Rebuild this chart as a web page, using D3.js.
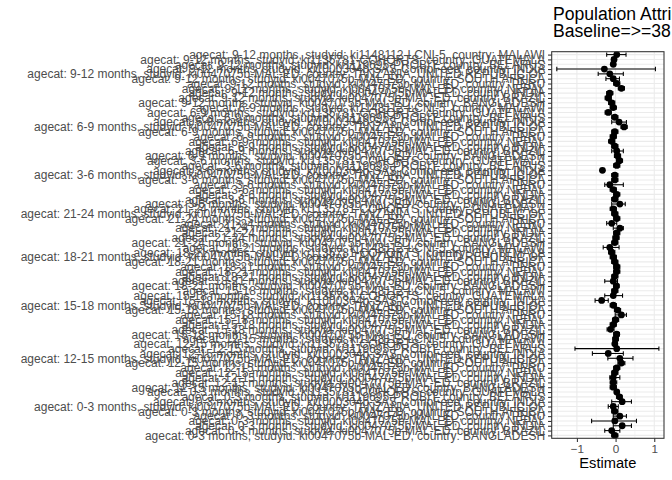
<!DOCTYPE html>
<html><head><meta charset="utf-8">
<script src="https://cdn.jsdelivr.net/npm/d3@7"></script>
<style>body{margin:0;background:#fff}</style>
</head><body>
<svg id="chart" width="672" height="480"></svg>
<script>
// ---- data (ordered bottom to top, as in the picture) ----
const ageCats = ["0-3 months","12-15 months","15-18 months","18-21 months","21-24 months","3-6 months","6-9 months","9-12 months"];
const malEd = ["BANGLADESH","BRAZIL","INDIA","NEPAL","PERU","SOUTH AFRICA","TANZANIA, UNITED REPUBLIC OF"];
const otherStudies = [
  [["ki1000304b-SAS-CompFeed","INDIA"],["ki1119695-PROBIT","BELARUS"],["ki1135781-COHORTS","GUATEMALA"]],
  [["ki1000304b-SAS-CompFeed","INDIA"],["ki1119695-PROBIT","BELARUS"],["ki1135781-COHORTS","GUATEMALA"],["ki1148112-LCNI-5","MALAWI"]],
  [["ki1000304b-SAS-CompFeed","INDIA"],["ki1135781-COHORTS","GUATEMALA"],["ki1148112-LCNI-5","MALAWI"]],
  [["ki1135781-COHORTS","GUATEMALA"],["ki1148112-LCNI-5","MALAWI"]],
  [["ki1135781-COHORTS","GUATEMALA"]],
  [["ki1000304b-SAS-CompFeed","INDIA"],["ki1119695-PROBIT","BELARUS"],["ki1135781-COHORTS","GUATEMALA"]],
  [["ki1000304b-SAS-CompFeed","INDIA"],["ki1119695-PROBIT","BELARUS"],["ki1135781-COHORTS","GUATEMALA"],["ki1148112-LCNI-5","MALAWI"]],
  [["ki1000304b-SAS-CompFeed","INDIA"],["ki1119695-PROBIT","BELARUS"],["ki1135781-COHORTS","GUATEMALA"],["ki1148112-LCNI-5","MALAWI"]]
];
const estimate = [
  -0.02,-0.10,0.17,-0.02,0.11,-0.02,-0.06,0.17,0.10,0.03,
  -0.06,-0.06,-0.06,-0.02,0.03,0.15,0.11,-0.19,0.03,-0.02,0.00,
  0.03,-0.13,-0.06,0.00,0.15,0.05,-0.06,-0.36,-0.06,-0.02,
  0.02,-0.06,-0.02,0.03,0.03,-0.02,-0.06,-0.10,-0.15,
  -0.02,0.01,0.03,0.11,-0.10,0.03,-0.02,-0.06,
  0.11,-0.02,0.03,-0.06,-0.15,-0.02,-0.02,-0.34,0.03,0.10,
  0.05,0.03,-0.02,-0.10,-0.06,-0.02,0.22,0.09,-0.02,-0.19,-0.06,
  -0.10,-0.19,-0.15,0.15,0.03,-0.06,-0.15,-0.29,-0.06,-0.04,0.03
];
const lower = [
  -0.10,-0.28,-0.06,-0.62,-0.06,-0.10,-0.19,-0.10,0.03,-0.02,
  -0.14,-0.14,-0.15,-0.10,-0.05,0.06,-0.20,-0.60,-1.05,-0.08,-0.07,
  -0.05,-0.22,-0.14,-0.08,-0.01,-0.03,-0.14,-0.53,-0.28,-0.10,
  -0.05,-0.28,-0.10,-0.05,-0.05,-0.10,-0.14,-0.18,-0.32,
  -0.10,-0.07,-0.05,-0.06,-0.23,-0.05,-0.10,-0.14,
  -0.10,-0.10,-0.05,-0.14,-0.28,-0.10,-0.10,-0.38,-0.05,0.02,
  -0.03,-0.10,-0.10,-0.18,-0.14,-0.10,0.14,-0.10,-0.10,-0.27,-0.14,
  -0.18,-0.27,-0.23,0.07,-0.05,-0.25,-0.45,-1.52,-0.10,-0.10,-0.23
];
const upper = [
  0.06,0.11,0.41,0.54,0.28,0.06,0.07,0.41,0.17,0.08,
  0.02,0.03,0.11,0.06,0.11,0.24,0.45,0.20,1.12,0.04,0.07,
  0.10,-0.04,0.02,0.08,0.28,0.13,0.02,-0.19,0.18,0.06,
  0.09,0.05,0.06,0.11,0.11,0.06,0.02,-0.02,0.09,
  0.06,0.09,0.11,0.20,0.03,0.11,0.06,0.02,
  0.25,0.06,0.11,0.02,0.20,0.06,0.06,-0.30,0.11,0.18,
  0.13,0.20,0.06,-0.02,0.02,0.06,0.30,0.28,0.06,-0.11,0.02,
  -0.02,-0.11,-0.07,0.23,0.11,0.10,0.20,1.03,-0.02,0.02,0.27
];
const xTicks = [-1, 0, 1];
const titleLines = ["Population Attributable Difference", "Baseline=>=38 weeks"];
const xLabel = "Estimate";

// ---- build rows ----
const labels = [];
ageCats.forEach((a, k) => {
  malEd.forEach(c => labels.push(`agecat: ${a}, studyid: ki0047075b-MAL-ED, country: ${c}`));
  otherStudies[k].forEach(([s, c]) => labels.push(`agecat: ${a}, studyid: ${s}, country: ${c}`));
});
const rows = labels.map((l, i) => ({key: i, label: l, est: estimate[i], lo: lower[i], hi: upper[i]}));

// ---- layout ----
const P = {left: 551.7, right: 664, top: 51.7, bottom: 438.3};
const svg = d3.select("#chart");
const font = "'Liberation Sans', Arial, Helvetica, sans-serif";

const lo = d3.min(lower), hi = d3.max(upper), pad = (hi - lo) * 0.05;
const x = d3.scaleLinear().domain([lo - pad, hi + pad]).range([P.left, P.right]);
const y = d3.scalePoint().domain(rows.map(r => r.key)).range([P.bottom, P.top]).padding(0.6);

svg.append("rect").attr("x", P.left).attr("y", P.top)
  .attr("width", P.right - P.left).attr("height", P.bottom - P.top).attr("fill", "#fff");

const grid = svg.append("g");
const minor = [];
for (let i = 0; i < xTicks.length - 1; i++) minor.push((xTicks[i] + xTicks[i + 1]) / 2);
minor.push(xTicks[0] - (xTicks[1] - xTicks[0]) / 2);
minor.push(xTicks[xTicks.length - 1] + (xTicks[1] - xTicks[0]) / 2);
grid.selectAll(".mn").data(minor.filter(v => v >= x.domain()[0] && v <= x.domain()[1])).join("line")
  .attr("x1", d => x(d)).attr("x2", d => x(d)).attr("y1", P.top).attr("y2", P.bottom)
  .attr("stroke", "#EBEBEB").attr("stroke-width", 0.53);
grid.selectAll(".hy").data(rows).join("line")
  .attr("x1", P.left).attr("x2", P.right).attr("y1", d => y(d.key)).attr("y2", d => y(d.key))
  .attr("stroke", "#EBEBEB").attr("stroke-width", 1.07);
grid.selectAll(".mx").data(xTicks).join("line")
  .attr("x1", d => x(d)).attr("x2", d => x(d)).attr("y1", P.top).attr("y2", P.bottom)
  .attr("stroke", "#EBEBEB").attr("stroke-width", 1.07);

const eb = svg.append("g").attr("stroke", "#000").attr("stroke-width", 1.07).attr("fill", "none");
rows.forEach(r => {
  const yy = y(r.key);
  eb.append("line").attr("x1", x(r.lo)).attr("x2", x(r.hi)).attr("y1", yy).attr("y2", yy);
  eb.append("line").attr("x1", x(r.lo)).attr("x2", x(r.lo)).attr("y1", yy - 2.2).attr("y2", yy + 2.2);
  eb.append("line").attr("x1", x(r.hi)).attr("x2", x(r.hi)).attr("y1", yy - 2.2).attr("y2", yy + 2.2);
});
svg.append("g").selectAll("circle").data(rows).join("circle")
  .attr("cx", d => x(d.est)).attr("cy", d => y(d.key)).attr("r", 3.4).attr("fill", "#000");

svg.append("rect").attr("x", P.left).attr("y", P.top)
  .attr("width", P.right - P.left).attr("height", P.bottom - P.top)
  .attr("fill", "none").attr("stroke", "#333333").attr("stroke-width", 1.07);

const yAxis = svg.append("g").attr("transform", `translate(${P.left},0)`)
  .call(d3.axisLeft(y).tickSize(3.67).tickPadding(2.9).tickFormat(k => labels[k]));
yAxis.select(".domain").remove();
yAxis.selectAll("line").attr("stroke", "#333333").attr("stroke-width", 1.07);
yAxis.selectAll("text").attr("fill", "#4D4D4D").style("font-family", font).style("font-size", "12px");

const xAxis = svg.append("g").attr("transform", `translate(0,${P.bottom})`)
  .call(d3.axisBottom(x).tickValues(xTicks).tickSize(3.67).tickPadding(2.9).tickFormat(d3.format("d")));
xAxis.select(".domain").remove();
xAxis.selectAll("line").attr("stroke", "#333333").attr("stroke-width", 1.07);
xAxis.selectAll("text").attr("fill", "#4D4D4D").style("font-family", font).style("font-size", "11.7px");

svg.append("text").attr("x", (P.left + P.right) / 2).attr("y", 468)
  .attr("text-anchor", "middle").style("font-family", font).style("font-size", "14.67px")
  .attr("fill", "#000").text(xLabel);

const t = svg.append("text").style("font-family", font).style("font-size", "17.6px").attr("fill", "#000");
t.append("tspan").attr("x", 553).attr("y", 20).text(titleLines[0]);
t.append("tspan").attr("x", 553).attr("y", 36.5).text(titleLines[1]);
</script>
</body></html>
